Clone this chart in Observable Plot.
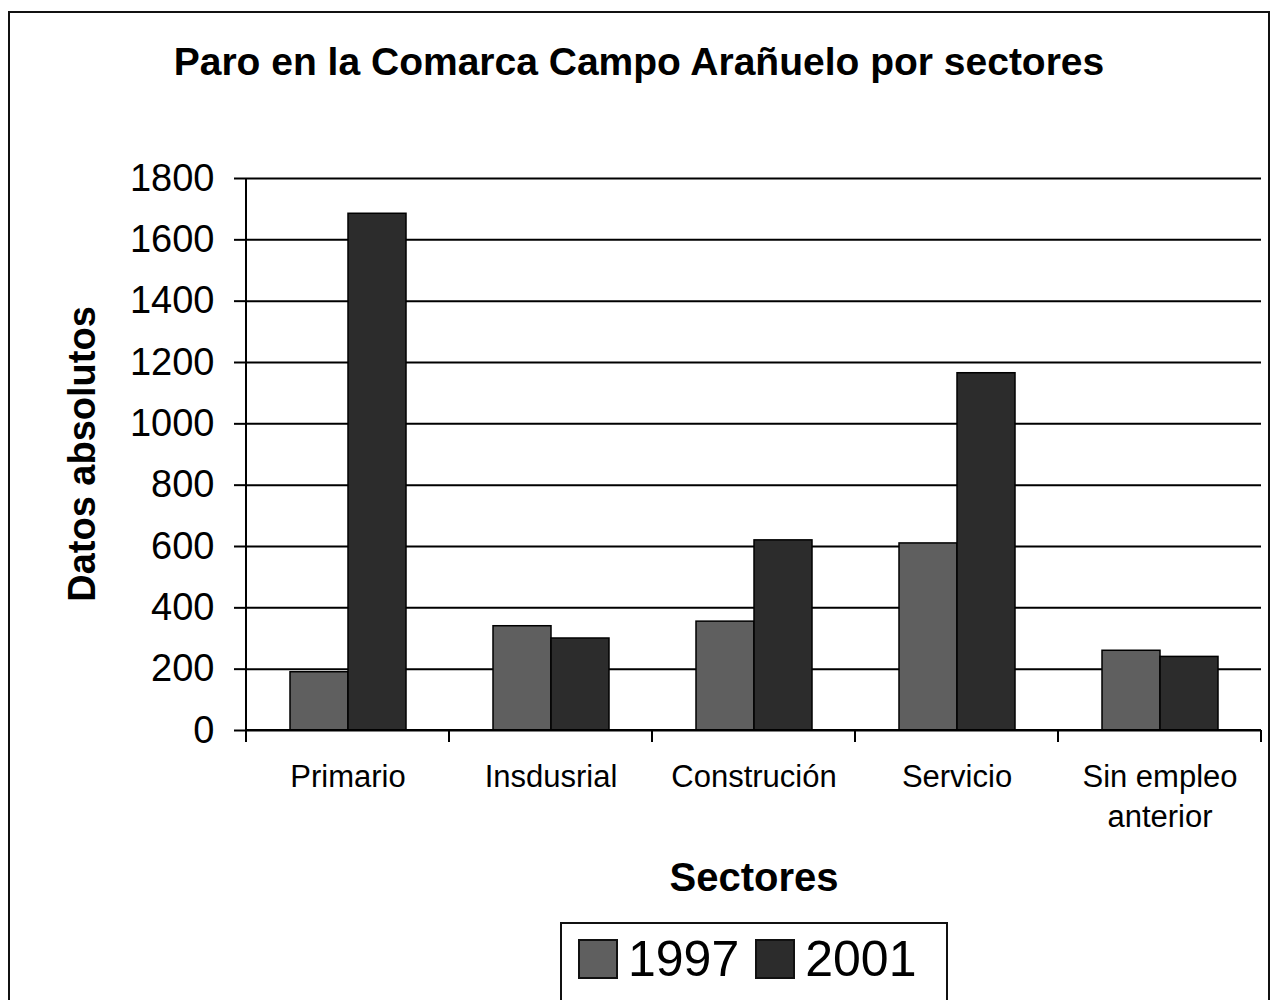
<!DOCTYPE html>
<html>
<head>
<meta charset="utf-8">
<script src="https://cdn.jsdelivr.net/npm/d3@7"></script>
<script src="https://cdn.jsdelivr.net/npm/@observablehq/plot@0.6"></script>
<style>
  html, body { margin: 0; padding: 0; background: #fff; }
  body { width: 1276px; height: 1000px; position: relative; overflow: hidden; font-family: "Liberation Sans", Arial, sans-serif; color: #000; }
  #frame { position: absolute; left: 8px; top: 11px; width: 1258px; height: 1010px; border: 2px solid #111; }
  #title { position: absolute; left: 0; width: 1278px; top: 40px; text-align: center; font-weight: bold; font-size: 39px; }
  #chart { position: absolute; left: 0; top: 110px; }
  #ylabel { position: absolute; left: 82px; top: 454px; transform: translate(-50%, -50%) rotate(-90deg); font-weight: bold; font-size: 38px; white-space: nowrap; }
  #xlabel { position: absolute; left: 0; width: 1508px; top: 855px; text-align: center; font-weight: bold; font-size: 40px; }
  #legend { position: absolute; left: 560px; top: 922px; width: 388px; height: 90px; border: 2px solid #111; display: flex; align-items: flex-start; padding-top: 6px; box-sizing: border-box; }
  .item { display: flex; align-items: center; font-size: 50px; margin-left: 16px; }
  .sw { width: 40px; height: 40px; border: 2px solid #111; box-sizing: border-box; margin-right: 10px; }
</style>
</head>
<body>
<div id="frame"></div>
<div id="title">Paro en la Comarca Campo Arañuelo por sectores</div>
<div id="chart"></div>
<div id="ylabel">Datos absolutos</div>
<div id="xlabel">Sectores</div>
<div id="legend"></div>
<script>
const categories = ["Primario", "Insdusrial", "Construción", "Servicio", "Sin empleo anterior"];
const tickLabels = ["Primario", "Insdusrial", "Construción", "Servicio", "Sin empleo\nanterior"];
const years = ["1997", "2001"];
const values1997 = [190, 340, 355, 610, 260];
const values2001 = [1685, 300, 620, 1165, 240];
const yTicks = [0, 200, 400, 600, 800, 1000, 1200, 1400, 1600, 1800];
const colors = ["#5f5f5f", "#2c2c2c"];

const data = [];
categories.forEach((c, i) => {
  data.push({sector: c, year: years[0], value: values1997[i]});
  data.push({sector: c, year: years[1], value: values2001[i]});
});

const plot = Plot.plot({
  width: 1276,
  height: 740,
  marginLeft: 245,
  marginRight: 14,
  marginTop: 68,
  marginBottom: 120,
  style: {fontFamily: "'Liberation Sans', Arial, sans-serif", background: "transparent", color: "#000"},
  fx: {domain: categories, padding: 0, label: null},
  x: {domain: years, paddingInner: 0, paddingOuter: 0.75, axis: null},
  y: {domain: [0, 1800], axis: null},
  color: {domain: years, range: colors},
  marks: [
    Plot.gridY(yTicks, {stroke: "#000", strokeOpacity: 1, strokeWidth: 2}),
    Plot.barY(data, {fx: "sector", x: "year", y: "value", fill: "year", stroke: "#000", strokeWidth: 1.5}),
    Plot.axisY(yTicks, {tickSize: 12, tickPadding: 20, fontSize: 38, strokeWidth: 2, label: null, tickFormat: d => String(d)}),
    Plot.axisFx({anchor: "bottom", tickSize: 0, tickPadding: 28, fontSize: 31, lineHeight: 1.3, label: null,
      tickFormat: d => tickLabels[categories.indexOf(d)]})
  ]
});

const fx = plot.scale("fx");
const y = plot.scale("y");
const svg = d3.select(plot);
const y0 = y.apply(0);
const bounds = categories.map(c => fx.apply(c));
bounds.push(fx.apply(categories[categories.length - 1]) + fx.bandwidth);
const g = svg.append("g").attr("stroke", "#000").attr("stroke-width", 2);
bounds.forEach(b => g.append("line").attr("x1", b).attr("x2", b).attr("y1", y0).attr("y2", y0 + 12));
g.append("line").attr("x1", bounds[0]).attr("x2", bounds[0]).attr("y1", y.apply(1800)).attr("y2", y0);
g.append("line").attr("x1", bounds[0]).attr("x2", bounds[bounds.length - 1]).attr("y1", y0).attr("y2", y0);

document.getElementById("chart").appendChild(plot);

const legend = d3.select("#legend");
years.forEach((yr, i) => {
  const it = legend.append("div").attr("class", "item");
  it.append("div").attr("class", "sw").style("background", colors[i]);
  it.append("span").text(yr);
});
</script>
</body>
</html>
